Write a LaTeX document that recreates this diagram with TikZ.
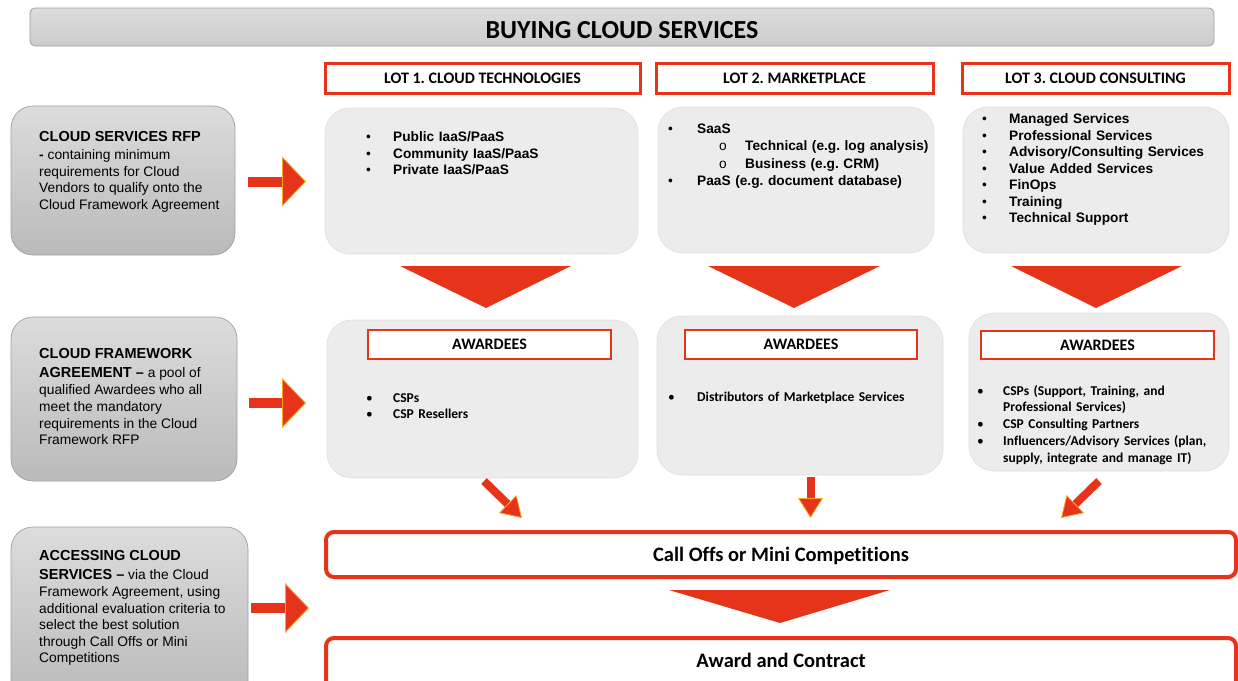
\documentclass[tikz,border=0pt]{standalone}
\usepackage{fontspec}
\setmainfont{Liberation Sans}
\newfontfamily\calfont[Ligatures={NoCommon}]{Carlito}
\usetikzlibrary{arrows.meta}
\frenchspacing

\definecolor{cred}{RGB}{229,52,26}
\definecolor{corange}{RGB}{250,165,40}
\definecolor{panel}{RGB}{236,236,236}
\definecolor{panelline}{RGB}{224,224,224}
\definecolor{greytop}{RGB}{220,220,220}
\definecolor{greybot}{RGB}{186,186,186}
\definecolor{greyline}{RGB}{160,160,160}

% bullet item with hanging indent
\newcommand\bitem[2][27pt]{\par\hangindent=#1\hangafter=1\noindent\makebox[#1][l]{\mdseries\textbullet}#2}
% second-level item
\newcommand\lvltwo[1]{\par\noindent\hspace*{51pt}\makebox[26pt][l]{\mdseries o}#1}
% shift text vertically without changing its box
\newcommand\lowerby[2]{\raisebox{-#1}[\height][\depth]{#2}}

\begin{document}
\frenchspacing
\begin{tikzpicture}[x=1pt,y=-1pt,
  sidebox/.style={rounded corners=22pt, draw=greyline, line width=0.7pt,
    top color=greytop, bottom color=greybot, inner sep=0pt},
  panelbox/.style={rounded corners=25pt, draw=panelline, fill=panel,
    line width=0.7pt, inner sep=0pt},
  lothead/.style={draw=cred, line width=3pt, fill=white, inner sep=0pt,
    font=\calfont\bfseries\fontsize{16}{18}\selectfont},
  awhead/.style={draw=cred, line width=1.1pt, fill=white, inner sep=0pt,
    font=\calfont\bfseries\fontsize{16}{18}\selectfont},
  stagebox/.style={draw=cred, line width=4pt, rounded corners=8pt, fill=white,
    inner sep=0pt, font=\calfont\bfseries\fontsize{20.5}{24}\selectfont},
  sidetext/.style={anchor=north west, inner sep=0pt, align=left,
    font=\fontsize{13.8}{16.4}\selectfont},
  lotlist/.style={anchor=north west, inner sep=0pt, align=left, text width=300pt,
    font=\bfseries\fontsize{13.7}{16.5}\selectfont},
  awlist/.style={anchor=north west, inner sep=0pt, align=left, text width=260pt,
    font=\calfont\bfseries\fontsize{13.5}{16.8}\selectfont},
  rblock/.style={draw=cred, line width=10pt,
    -{Triangle[length=24pt,width=50pt,fill=cred,color=corange,line width=0.8pt]}},
  dblock/.style={draw=cred, line width=8pt,
    -{Triangle[length=20pt,width=25pt,fill=cred,color=corange,line width=0.8pt]}},
  wedge/.style={fill=cred}
]
\useasboundingbox (0,0) rectangle (1238,680);
\fill[white] (0,0) rectangle (1238,680);

% title bar
\node[draw=greyline, line width=0.8pt, rounded corners=5pt, top color=greytop,
  bottom color={rgb,255:red,204;green,204;blue,204}, minimum width=1184pt,
  minimum height=38pt, inner sep=0pt,
  font=\calfont\bfseries\fontsize{26}{30}\selectfont] (title) at (622,27) {\lowerby{3pt}{BUYING CLOUD SERVICES}};

% left-hand stage descriptions
\node[sidebox, minimum width=224pt, minimum height=149pt] (rfp) at (123,180.5) {};
\node[sidetext] (rfptext) at (39,131) {{\bfseries\fontsize{14.5}{16}\selectfont CLOUD SERVICES RFP}\\[2.2pt]
  {\bfseries -} containing minimum\\ requirements for Cloud\\ Vendors to qualify onto the\\ Cloud Framework Agreement};

\node[sidebox, minimum width=226pt, minimum height=164pt] (cfa) at (124,399) {};
\node[sidetext, font=\fontsize{13.8}{16.6}\selectfont] (cfatext) at (39,348) {{\bfseries\fontsize{14.5}{16}\selectfont CLOUD FRAMEWORK}\\[2.3pt]
  {\bfseries\fontsize{14.5}{16}\selectfont AGREEMENT --} a pool of\\[1pt] qualified Awardees who all\\ meet the mandatory\\ requirements in the Cloud\\ Framework RFP};

\node[sidebox, minimum width=237pt, minimum height=176pt] (acc) at (129.5,615) {};
\node[sidetext, font=\fontsize{13.8}{16.5}\selectfont] (acctext) at (39,550) {{\bfseries\fontsize{14.5}{16}\selectfont ACCESSING CLOUD}\\[2.3pt]
  {\bfseries\fontsize{14.5}{16}\selectfont SERVICES --} via the Cloud\\[1pt] Framework Agreement, using\\ additional evaluation criteria to\\ select the best solution\\ through Call Offs or Mini\\ Competitions};

% lot headers
\node[lothead, minimum width=315pt, minimum height=30pt] (lot1) at (482.5,78) {LOT 1. CLOUD TECHNOLOGIES};
\node[lothead, minimum width=277pt, minimum height=30pt] (lot2) at (794.5,78) {LOT 2. MARKETPLACE};
\node[lothead, minimum width=267pt, minimum height=30pt] (lot3) at (1095.5,78) {LOT 3. CLOUD CONSULTING};

% lot contents
\node[panelbox, minimum width=313pt, minimum height=146pt] (lot1box) at (481.5,181) {};
\node[lotlist] (lot1list) at (366,125) {\bitem{Public IaaS/PaaS}\bitem{Community IaaS/PaaS}\bitem{Private IaaS/PaaS}\par};

\node[panelbox, minimum width=276pt, minimum height=146pt] (lot2box) at (796,180) {};
\node[lotlist, font=\bfseries\fontsize{13.7}{17.3}\selectfont] (lot2list) at (668,116) {\bitem[29pt]{SaaS}\lvltwo{Technical (e.g. log analysis)}\lvltwo{Business (e.g. CRM)}\bitem[29pt]{PaaS (e.g. document database)}\par};

\node[panelbox, minimum width=266pt, minimum height=146pt] (lot3box) at (1096,180) {};
\node[lotlist] (lot3list) at (982,107) {\bitem{Managed Services}\bitem{Professional Services}\bitem{Advisory/Consulting Services}\bitem{Value Added Services}\bitem{FinOps}\bitem{Training}\bitem{Technical Support}\par};

% wedges from lots to awardees
\fill[wedge] (400,266) -- (571,266) -- (486,308) -- cycle;
\fill[wedge] (708,266) -- (880,266) -- (794,308) -- cycle;
\fill[wedge] (1011,266) -- (1182,266) -- (1096,308) -- cycle;

% awardees
\node[panelbox, minimum width=311pt, minimum height=158pt] (aw1box) at (482.5,399) {};
\node[awhead, minimum width=243pt, minimum height=29pt] (aw1head) at (489.5,344.5) {AWARDEES};
\node[awlist] (aw1list) at (366,385) {\bitem{CSPs}\bitem{CSP Resellers}\par};

\node[panelbox, minimum width=286pt, minimum height=159pt] (aw2box) at (800,395.5) {};
\node[awhead, minimum width=232pt, minimum height=29pt] (aw2head) at (801,344.5) {AWARDEES};
\node[awlist] (aw2list) at (668,384.5) {\bitem[29pt]{Distributors of Marketplace Services}\par};

\node[panelbox, minimum width=260pt, minimum height=158pt] (aw3box) at (1099,392) {};
\node[awhead, minimum width=233pt, minimum height=28pt] (aw3head) at (1097.5,345) {AWARDEES};
\node[awlist] (aw3list) at (977,378) {\bitem[26pt]{CSPs (Support, Training, and\newline Professional Services)}\bitem[26pt]{CSP Consulting Partners}\bitem[26pt]{Influencers/Advisory Services (plan,\newline supply, integrate and manage IT)}\par};

% final stages
\node[stagebox, minimum width=910pt, minimum height=45pt] (calloff) at (781,554.5) {\lowerby{1.5pt}{Call Offs or Mini Competitions}};
\node[stagebox, minimum width=910pt, minimum height=52pt] (award) at (781,664) {\lowerby{-3.5pt}{Award and Contract}};
\fill[wedge] (669,590) -- (890,590) -- (780,623) -- cycle;

% arrows from the stage descriptions
\coordinate (r1s) at (248,181.5);
\coordinate (r1e) at (306,181.5);
\coordinate (r2s) at (249,403);
\coordinate (r2e) at (306,403);
\coordinate (r3s) at (251,608);
\coordinate (r3e) at (309,608);
\draw[rblock] (r1s) -- (r1e);
\draw[rblock] (r2s) -- (r2e);
\draw[rblock] (r3s) -- (r3e);

% arrows from awardees into the call offs
\coordinate (d1s) at (484,481);
\coordinate (d1e) at (522,518);
\coordinate (d2s) at (810.5,477);
\coordinate (d2e) at (810.5,518);
\coordinate (d3s) at (1099,481);
\coordinate (d3e) at (1061,518);
\draw[dblock] (d1s) -- (d1e);
\draw[dblock] (d2s) -- (d2e);
\draw[dblock] (d3s) -- (d3e);
\end{tikzpicture}
\end{document}
